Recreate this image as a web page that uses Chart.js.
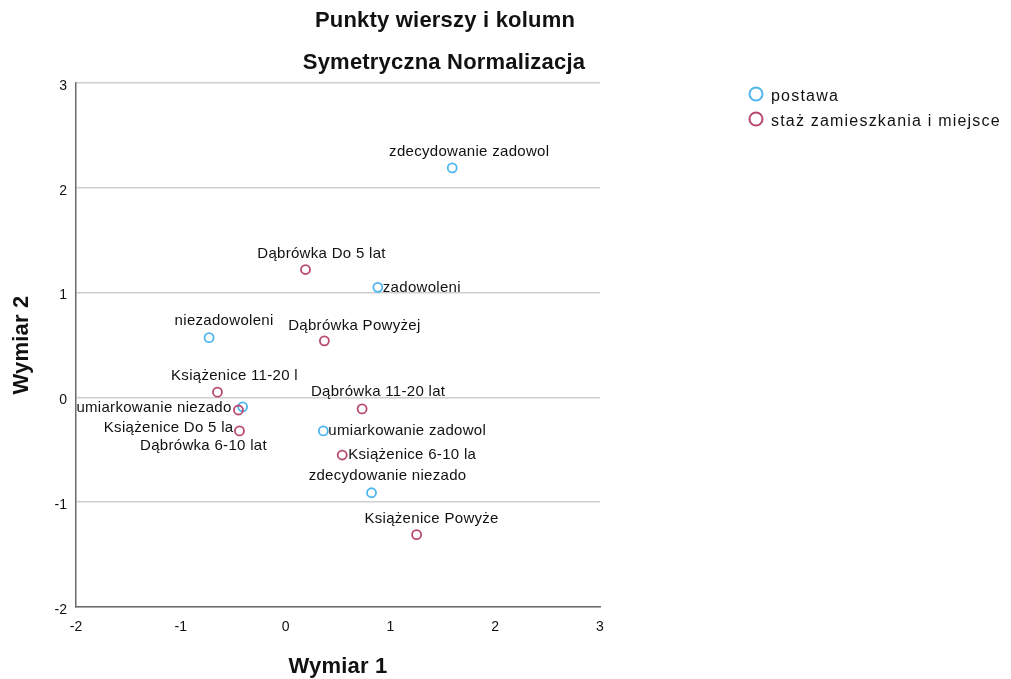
<!DOCTYPE html>
<html>
<head>
<meta charset="utf-8">
<script src="https://cdn.jsdelivr.net/npm/chart.js@4"></script>
<style>
  html, body { margin: 0; padding: 0; background: #fff; }
  #wrap { width: 1011px; height: 679px; }
</style>
</head>
<body>
<div id="wrap"><canvas id="chart"></canvas></div>
<script>
// postawa (row points)
const postawaLabels = ['zdecydowanie zadowol', 'zadowoleni', 'niezadowoleni', 'umiarkowanie niezado', 'umiarkowanie zadowol', 'zdecydowanie niezado'];
const postawaX = [1.59, 0.88, -0.73, -0.41, 0.36, 0.82];
const postawaY = [2.19, 1.05, 0.57, -0.09, -0.32, -0.91];

// staż zamieszkania i miejsce (column points)
const stazLabels = ['Dąbrówka Do 5 lat', 'Dąbrówka Powyżej', 'Książenice 11-20 l', 'Dąbrówka 11-20 lat', 'Książenice Do 5 la', 'Dąbrówka 6-10 lat', 'Książenice 6-10 la', 'Książenice Powyże'];
const stazX = [0.19, 0.37, -0.65, 0.73, -0.45, -0.44, 0.54, 1.25];
const stazY = [1.22, 0.54, 0.05, -0.11, -0.12, -0.32, -0.55, -1.31];

const axisTicks = [-2, -1, 0, 1, 2, 3];

// label placement: [align, dx, dy] relative to the point
const postawaPlace = [['center', 17, -16], ['left', 5, 0], ['center', 15, -17], ['right', -11, 1], ['left', 5, 0], ['center', 16, -17]];
const stazPlace = [['center', 16, -16], ['center', 30, -15], ['center', 17, -16], ['center', 16, -17], ['right', -5, 18], ['center', -36, 15], ['left', 6, 0], ['center', 15, -16]];

const BLUE = '#4db6ef';
const RED = '#b8496f';
const FONT = '"Liberation Sans", Arial, sans-serif';

function toPoints(xs, ys) {
  return xs.map((x, i) => ({ x: x, y: ys[i] }));
}

const pointLabels = {
  id: 'pointLabels',
  afterDatasetsDraw(chart) {
    const ctx = chart.ctx;
    const places = [postawaPlace, stazPlace];
    const names = [postawaLabels, stazLabels];
    ctx.save();
    ctx.font = '15px ' + FONT;
    ctx.letterSpacing = '0.3px';
    ctx.fillStyle = '#111';
    ctx.textBaseline = 'middle';
    chart.data.datasets.forEach((ds, di) => {
      chart.getDatasetMeta(di).data.forEach((el, i) => {
        const p = places[di][i];
        ctx.textAlign = p[0];
        ctx.fillText(names[di][i], el.x + p[1], el.y + p[2]);
      });
    });
    ctx.restore();
  }
};

const decorations = {
  id: 'decorations',
  afterDraw(chart) {
    const ctx = chart.ctx;
    const area = chart.chartArea;
    ctx.save();
    ctx.fillStyle = '#111';
    ctx.textAlign = 'center';
    ctx.textBaseline = 'middle';
    ctx.font = 'bold 22px ' + FONT;
    ctx.letterSpacing = '0.2px';
    ctx.fillText('Punkty wierszy i kolumn', 445, 21);
    ctx.fillText('Symetryczna Normalizacja', 444, 63);

    ctx.fillText('Wymiar 1', (area.left + area.right) / 2, 667);
    ctx.save();
    ctx.translate(22, (area.top + area.bottom) / 2);
    ctx.rotate(-Math.PI / 2);
    ctx.fillText('Wymiar 2', 0, 0);
    ctx.restore();

    // legend
    const items = [['postawa', BLUE], ['staż zamieszkania i miejsce', RED]];
    ctx.font = '16px ' + FONT;
    ctx.textAlign = 'left';
    ctx.letterSpacing = '1.2px';
    items.forEach((it, i) => {
      const cy = 94 + i * 25;
      ctx.beginPath();
      ctx.arc(756, cy, 6.5, 0, Math.PI * 2);
      ctx.strokeStyle = it[1];
      ctx.lineWidth = 2;
      ctx.stroke();
      ctx.fillStyle = '#111';
      ctx.fillText(it[0], 771, cy + 3);
    });
    ctx.restore();
  }
};

new Chart(document.getElementById('chart'), {
  type: 'scatter',
  data: {
    datasets: [
      {
        label: 'postawa',
        data: toPoints(postawaX, postawaY),
        borderColor: BLUE,
        backgroundColor: 'rgba(0,0,0,0)',
        pointRadius: 4.5,
        pointBorderWidth: 1.8,
        order: 1
      },
      {
        label: 'staż zamieszkania i miejsce',
        data: toPoints(stazX, stazY),
        borderColor: RED,
        backgroundColor: 'rgba(0,0,0,0)',
        pointRadius: 4.5,
        pointBorderWidth: 1.8,
        order: 0
      }
    ]
  },
  options: {
    responsive: true,
    maintainAspectRatio: false,
    animation: false,
    layout: { padding: { left: 0, top: 83, right: 411, bottom: 0 } },
    plugins: {
      legend: { display: false },
      tooltip: { enabled: false }
    },
    scales: {
      x: {
        min: -2, max: 3,
        afterBuildTicks(scale) { scale.ticks = axisTicks.map(v => ({ value: v })); },
        afterFit(scale) { scale.height = 72; },
        grid: { display: false, drawTicks: false },
        border: { color: '#6b6b6b', width: 1.5 },
        ticks: { color: '#111', padding: 12, font: { size: 14, family: FONT } }
      },
      y: {
        min: -2, max: 3,
        afterBuildTicks(scale) { scale.ticks = axisTicks.map(v => ({ value: v })); },
        afterFit(scale) { scale.width = 76; },
        grid: { color: '#cfcfcf', lineWidth: 1.5, drawTicks: false },
        border: { color: '#6b6b6b', width: 1.5 },
        ticks: { color: '#111', padding: 9, labelOffset: 3, font: { size: 14, family: FONT } }
      }
    }
  },
  plugins: [pointLabels, decorations]
});
</script>
</body>
</html>
